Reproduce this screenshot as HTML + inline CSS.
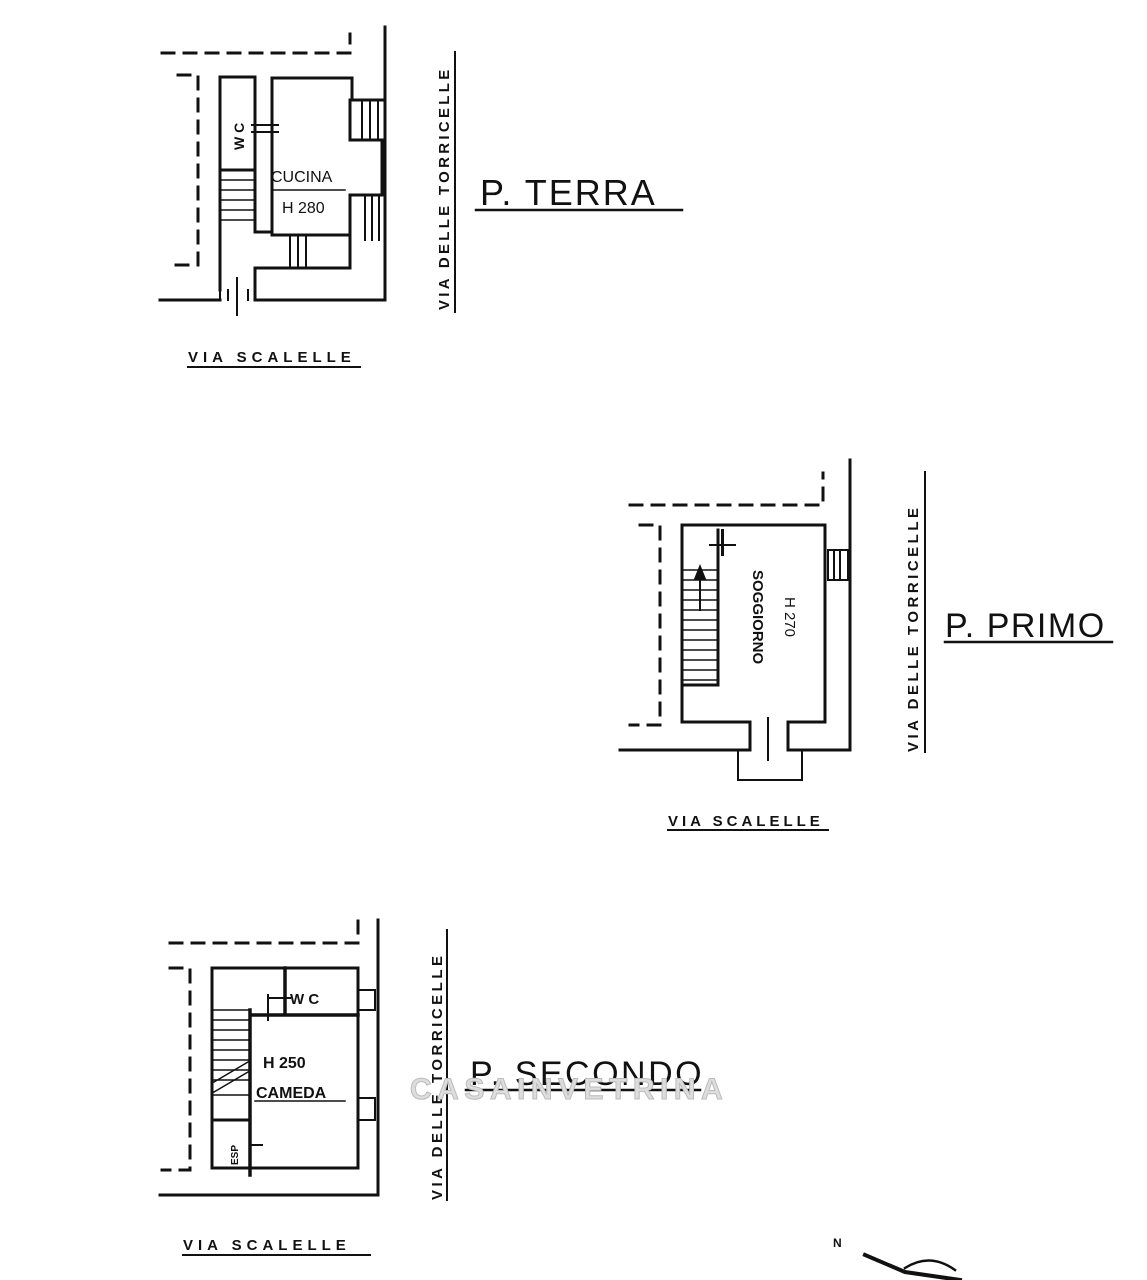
<!DOCTYPE html>
<html><head><meta charset="utf-8"><style>
html,body{margin:0;padding:0;background:#fff}
svg{display:block}
text{font-family:"Liberation Sans",sans-serif;fill:#111}
</style></head><body>
<svg width="1147" height="1280" viewBox="0 0 1147 1280" xmlns="http://www.w3.org/2000/svg">
<g stroke="#111" stroke-width="3" fill="none" stroke-linecap="square">
<!-- PLAN 1 -->
<path d="M162 53 H350 V34" stroke-dasharray="12 10"/>
<path d="M178 75 H198 V265 H172" stroke-dasharray="12 10"/>
<path d="M385 27 V300 H255"/>
<path d="M220 300 H160"/>
<path d="M220 290 V77 H255 V232 H272 V78 H352 V100 H385"/>
<path d="M220 170 H255"/>
<path d="M222 180 H253 M222 190 H253 M222 200 H253 M222 210 H253 M222 220 H253" stroke-width="1.5"/>
<path d="M272 235 H350 V195 H382 V140 H350 V100"/>
<path d="M255 268 H350 V235 M255 268 V300"/>
<path d="M220 290 V300 M237 278 V315 M228 290 V300 M248 290 V300" stroke-width="2"/>
<path d="M362 100 V140 M370 100 V140 M378 100 V140 M365 195 V240 M372 195 V240 M379 195 V240" stroke-width="2"/>
<path d="M290 235 V268 M298 235 V268 M306 235 V268" stroke-width="2"/>
<path d="M252 125 H278 M252 132 H278" stroke-width="2"/>
<path d="M188 367 H360" stroke-width="2"/>
<path d="M455 52 V312" stroke-width="2"/>
<path d="M476 210 H682" stroke-width="2.5"/>
<path d="M272 190 H345" stroke-width="1.5"/>
<!-- PLAN 2 -->
<path d="M630 505 H823 V473" stroke-dasharray="12 10"/>
<path d="M640 525 H660 V725 H630" stroke-dasharray="12 10"/>
<path d="M850 460 V750 H788 V722 H825 V525 H682 V722 H750 V750 H620"/>
<path d="M718 530 V685 H684"/>
<path d="M684 570 H716 M684 580 H716 M684 590 H716 M684 600 H716 M684 610 H716 M684 620 H716 M684 630 H716 M684 640 H716 M684 650 H716 M684 660 H716 M684 670 H716 M684 680 H716" stroke-width="1.5"/>
<path d="M700 610 V575" stroke-width="2"/><path d="M696 578 L700 568 L704 578 Z" fill="#111"/>
<path d="M710 545 H735 M722 530 V555 M723 530 V555" stroke-width="2"/>
<path d="M828 550 H848 V580 H828 Z M834 552 V578 M840 552 V578" stroke-width="2"/>
<path d="M738 750 V780 H802 V750 M768 718 V760" stroke-width="2"/>
<path d="M668 830 H828" stroke-width="2"/>
<path d="M925 472 V752" stroke-width="2"/>
<path d="M945 642 H1112" stroke-width="2.5"/>
<!-- PLAN 3 -->
<path d="M170 943 H358 V920" stroke-dasharray="12 10"/>
<path d="M170 968 H190 V1170 H162" stroke-dasharray="12 10"/>
<path d="M378 920 V1195 H160"/>
<path d="M212 1168 V968 H358 V1168 H250 M212 1168 H250"/>
<path d="M285 968 V1015 M250 1015 H358 M250 1010 V1175" stroke-width="3.5"/>
<path d="M212 1120 H250"/>
<path d="M214 1010 H248 M214 1020 H248 M214 1030 H248 M214 1040 H248 M214 1050 H248 M214 1060 H248 M214 1070 H248 M214 1080 H248 M214 1095 H248" stroke-width="1.5"/>
<path d="M214 1082 L248 1062 M214 1092 L248 1072" stroke-width="1.5"/>
<path d="M360 990 H375 V1010 H360 M360 1098 H375 V1120 H360" stroke-width="2"/>
<path d="M270 998 H290 M268 995 V1020 M250 1145 H262" stroke-width="2"/>
<path d="M255 1101 H345" stroke-width="1.5"/>
<path d="M183 1255 H370" stroke-width="2"/>
<path d="M447 930 V1200" stroke-width="2"/>
<path d="M466 1090 H700" stroke-width="2.5"/>
<!-- compass -->
<path d="M865 1255 L905 1272 L960 1280" stroke-width="4"/>
<path d="M905 1268 Q930 1252 955 1270" stroke-width="2.5"/>
</g>
<!-- text -->
<text x="244" y="150" font-size="14" font-weight="bold" transform="rotate(-90 244 150)">W C</text>
<text x="271" y="182" font-size="16">CUCINA</text>
<text x="282" y="213" font-size="16">H 280</text>
<text x="188" y="362" font-size="15" font-weight="bold" letter-spacing="5">VIA SCALELLE</text>
<text x="449" y="310" font-size="15" font-weight="bold" transform="rotate(-90 449 310)" letter-spacing="3.3">VIA  DELLE  TORRICELLE</text>
<text x="480" y="205" font-size="36" letter-spacing="2">P. TERRA</text>

<text x="753" y="570" font-size="15" font-weight="bold" transform="rotate(90 753 570)">SOGGIORNO</text>
<text x="785" y="597" font-size="15" transform="rotate(90 785 597)">H 270</text>
<text x="668" y="826" font-size="15" font-weight="bold" letter-spacing="4">VIA SCALELLE</text>
<text x="918" y="752" font-size="15" font-weight="bold" transform="rotate(-90 918 752)" letter-spacing="3.5">VIA  DELLE  TORRICELLE</text>
<text x="945" y="637" font-size="34" letter-spacing="1.5">P. PRIMO</text>

<text x="290" y="1004" font-size="15" font-weight="bold">W C</text>
<text x="263" y="1068" font-size="16" font-weight="bold">H 250</text>
<text x="256" y="1098" font-size="16" font-weight="bold">CAMEDA</text>
<text x="238" y="1165" font-size="10" font-weight="bold" transform="rotate(-90 238 1165)">ESP</text>
<text x="183" y="1250" font-size="15" font-weight="bold" letter-spacing="5">VIA SCALELLE</text>
<text x="442" y="1200" font-size="15" font-weight="bold" transform="rotate(-90 442 1200)" letter-spacing="3.5">VIA  DELLE  TORRICELLE</text>
<text x="470" y="1085" font-size="34" letter-spacing="2.5">P. SECONDO</text>
<text x="410" y="1099" font-size="30" font-weight="bold" style="fill:#ddd;stroke:#bbb;stroke-width:1" letter-spacing="5.5">CASAINVETRINA</text>
<text x="833" y="1247" font-size="12" font-weight="bold">N</text>
</svg>
</body></html>
